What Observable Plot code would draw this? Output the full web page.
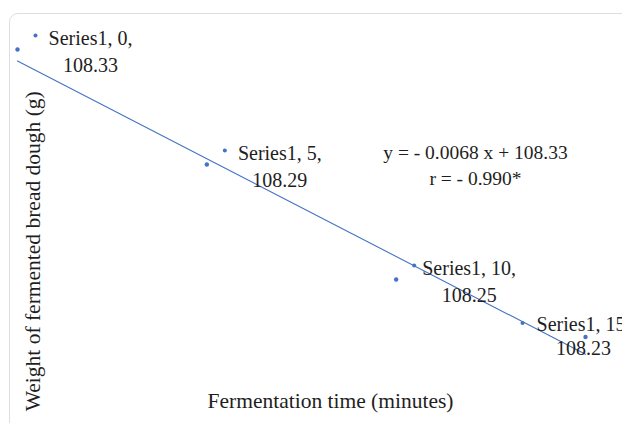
<!DOCTYPE html>
<html><head><meta charset="utf-8">
<script src="https://cdn.jsdelivr.net/npm/d3@7"></script>
<script src="https://cdn.jsdelivr.net/npm/@observablehq/plot@0.6"></script>
<style>
html,body{margin:0;padding:0;background:#fff;width:622px;height:423px;overflow:hidden;}
#wrap{position:relative;width:622px;height:423px;}
#frame{position:absolute;left:9px;top:13px;width:720px;height:520px;border:1px solid #dedede;border-radius:9px;box-sizing:border-box;}
#chart{position:absolute;left:0;top:0;}
</style></head><body>
<div id="wrap"><div id="frame"></div><div id="chart"></div></div>
<script>
const times = [0, 5, 10, 15];
const weights = [108.33, 108.29, 108.25, 108.23];
const seriesName = "Series1";
const xTitle = "Fermentation time (minutes)";
const yTitle = "Weight of fermented bread dough (g)";
const equationLines = ["y = - 0.0068 x + 108.33", "r = - 0.990*"];

const blue = "#4472C4";
const ink = "#1e1e1e";
const font = "Liberation Serif";

const data = times.map((t, i) => ({
  t, w: weights[i],
  label: `${seriesName}, ${t},\n${weights[i].toFixed(2)}`,
  left: i === times.length - 1
}));
const rightLabels = data.filter(d => !d.left);
const leftLabels = data.filter(d => d.left);

const chart = Plot.plot({
  width: 622,
  height: 423,
  marginLeft: 17,
  marginRight: 37,
  marginTop: 49,
  marginBottom: 86.5,
  x: {domain: [d3.min(times), d3.max(times)], axis: null},
  y: {domain: [d3.min(weights), d3.max(weights)], axis: null},
  style: {fontFamily: font, background: "transparent", overflow: "visible"},
  marks: [
    Plot.linearRegressionY(data, {x: "t", y: "w", stroke: blue, strokeWidth: 1.1, ci: 0}),
    Plot.dot(data, {x: "t", y: "w", r: 2.2, fill: blue, stroke: null}),
    Plot.dot(rightLabels, {x: "t", y: "w", r: 2, fill: blue, stroke: null, dx: 18, dy: -14}),
    Plot.text(rightLabels, {x: "t", y: "w", text: "label", textAnchor: "middle", lineAnchor: "top",
      dx: 73, dy: -23, fontSize: 20, lineHeight: 1.32, fill: ink}),
    Plot.dot(leftLabels, {x: "t", y: "w", r: 2, fill: blue, stroke: null, dx: -63, dy: -14}),
    Plot.text(leftLabels, {x: "t", y: "w", text: "label", textAnchor: "middle", lineAnchor: "top",
      dx: -2, dy: -23, fontSize: 20, lineHeight: 1.2, fill: ink}),
    Plot.text([equationLines.join("\n")], {frameAnchor: "top-left", textAnchor: "middle", lineAnchor: "top",
      dx: 458, dy: 92, fontSize: 19.5, lineHeight: 1.3, fill: ink}),
    Plot.text([yTitle], {frameAnchor: "left", rotate: -90, textAnchor: "middle", lineAnchor: "middle",
      dx: 16, dy: 58, fontSize: 21.5, fill: ink}),
    Plot.text([xTitle], {frameAnchor: "bottom", textAnchor: "middle", lineAnchor: "middle",
      dx: 29, dy: 64.5, fontSize: 21.5, fill: ink})
  ]
});
document.getElementById("chart").appendChild(chart);
</script>
</body></html>
